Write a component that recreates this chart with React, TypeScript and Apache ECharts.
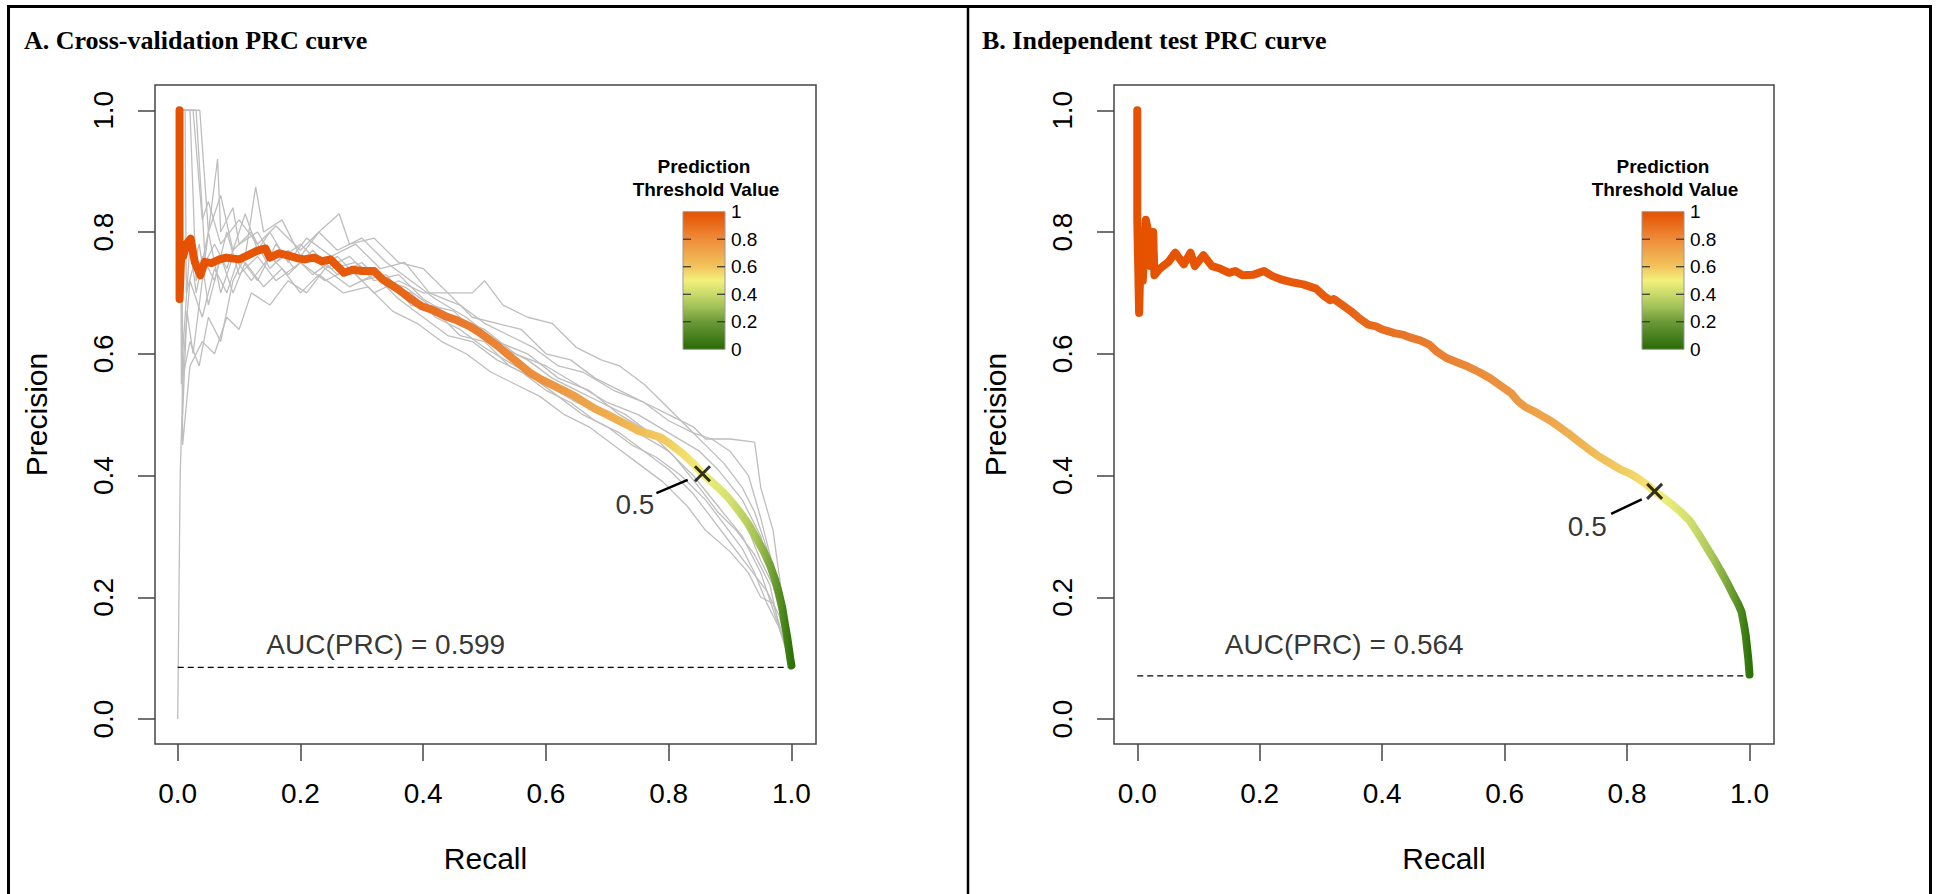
import React, { useEffect, useRef } from "react";
import * as echarts from "echarts";

// ---------- data ----------
const tickValues = [0, 0.2, 0.4, 0.6, 0.8, 1.0];
const legendValues = [1, 0.8, 0.6, 0.4, 0.2, 0];
const legendLabels = ["1", "0.8", "0.6", "0.4", "0.2", "0"];
const panelTitles = ["A. Cross-validation PRC curve", "B. Independent test PRC curve"];
const aucLabels = ["AUC(PRC) = 0.599", "AUC(PRC) = 0.564"];
const baselinePrecision = [0.085, 0.071];
const cutoffPoints = [[0.855, 0.403], [0.845, 0.374]];
const cutoffLabel = "0.5";
const cutoffLabelPos = [[0.745, 0.352], [0.735, 0.317]];
const leaderA = [[0.78, 0.371], [0.831, 0.393]];
const leaderB = [[0.774, 0.337], [0.824, 0.361]];
const aucLabelPos = [[0.339, 0.122], [0.338, 0.122]];

// main cross-validation curve (recall, precision)
const cvCurve = [
  [0.003, 1.0], [0.003, 0.69], [0.006, 0.77], [0.009, 0.76], [0.014, 0.78], [0.021, 0.789],
  [0.028, 0.75], [0.037, 0.729], [0.044, 0.751], [0.055, 0.749], [0.068, 0.755], [0.079, 0.758],
  [0.1, 0.755], [0.115, 0.762], [0.129, 0.769], [0.143, 0.773], [0.15, 0.758], [0.165, 0.765],
  [0.178, 0.762], [0.195, 0.757], [0.207, 0.755], [0.222, 0.758], [0.235, 0.752], [0.249, 0.755],
  [0.262, 0.742], [0.271, 0.733], [0.285, 0.738], [0.3, 0.736], [0.32, 0.736], [0.334, 0.722],
  [0.35, 0.712], [0.363, 0.703], [0.38, 0.69], [0.398, 0.678], [0.415, 0.672], [0.433, 0.663],
  [0.455, 0.655], [0.476, 0.645], [0.49, 0.636], [0.504, 0.626], [0.52, 0.614], [0.54, 0.597],
  [0.557, 0.583], [0.575, 0.568], [0.592, 0.558], [0.61, 0.549], [0.628, 0.54], [0.646, 0.531],
  [0.663, 0.52], [0.681, 0.509], [0.7, 0.5], [0.717, 0.491], [0.735, 0.482], [0.752, 0.473],
  [0.77, 0.468], [0.788, 0.462], [0.805, 0.45], [0.823, 0.436], [0.84, 0.42], [0.855, 0.403],
  [0.87, 0.39], [0.887, 0.374], [0.9, 0.36], [0.915, 0.341], [0.93, 0.32], [0.943, 0.297],
  [0.955, 0.275], [0.965, 0.253], [0.973, 0.23], [0.979, 0.209], [0.985, 0.183], [0.989, 0.158],
  [0.993, 0.135], [0.996, 0.114], [0.998, 0.1], [1.0, 0.088],
];

// independent test curve (recall, precision)
const testCurve = [
  [0.0, 1.0], [0.0, 0.82], [0.003, 0.667], [0.006, 0.78], [0.009, 0.72], [0.014, 0.82],
  [0.018, 0.8], [0.021, 0.744], [0.024, 0.8], [0.026, 0.8], [0.028, 0.729], [0.037, 0.74],
  [0.051, 0.751], [0.062, 0.766], [0.07, 0.755], [0.076, 0.747], [0.087, 0.766], [0.094, 0.744],
  [0.108, 0.762], [0.122, 0.744], [0.135, 0.74], [0.15, 0.733], [0.16, 0.736], [0.172, 0.729],
  [0.19, 0.73], [0.207, 0.736], [0.22, 0.728], [0.235, 0.722], [0.255, 0.717], [0.271, 0.714],
  [0.292, 0.707], [0.305, 0.695], [0.315, 0.688], [0.321, 0.69], [0.335, 0.68], [0.349, 0.67],
  [0.363, 0.658], [0.377, 0.648], [0.39, 0.645], [0.4, 0.64], [0.42, 0.634], [0.435, 0.631],
  [0.448, 0.626], [0.462, 0.622], [0.477, 0.615], [0.49, 0.603], [0.505, 0.593], [0.522, 0.586],
  [0.54, 0.579], [0.558, 0.57], [0.576, 0.56], [0.593, 0.548], [0.611, 0.535], [0.622, 0.522],
  [0.633, 0.513], [0.647, 0.506], [0.661, 0.498], [0.675, 0.49], [0.689, 0.48], [0.703, 0.47],
  [0.718, 0.458], [0.735, 0.445], [0.753, 0.432], [0.771, 0.421], [0.789, 0.41], [0.803, 0.404],
  [0.817, 0.396], [0.831, 0.386], [0.845, 0.374], [0.86, 0.363], [0.874, 0.352], [0.888, 0.34],
  [0.902, 0.326], [0.916, 0.305], [0.93, 0.282], [0.941, 0.264], [0.952, 0.245], [0.963, 0.225],
  [0.973, 0.205], [0.981, 0.19], [0.987, 0.176], [0.991, 0.155], [0.994, 0.136], [0.998, 0.099], [1.0, 0.073],
];

// individual cross-validation folds (grey)
const fold1 = [[0, 0], [0.004, 0.4], [0.01, 0.6], [0.02, 0.72], [0.04, 0.66], [0.06, 0.74], [0.08, 0.7], [0.1, 0.76], [0.13, 0.72], [0.16, 0.78], [0.19, 0.74], [0.22, 0.77], [0.26, 0.73], [0.3, 0.75], [0.34, 0.71], [0.38, 0.7], [0.42, 0.66], [0.46, 0.64], [0.5, 0.61], [0.55, 0.58], [0.6, 0.55], [0.65, 0.52], [0.7, 0.5], [0.75, 0.47], [0.8, 0.44], [0.84, 0.4], [0.88, 0.35], [0.92, 0.3], [0.95, 0.24], [0.97, 0.18], [0.99, 0.12], [1, 0.085]];
const fold2 = [[0.003, 1.0], [0.006, 1.0], [0.008, 0.5], [0.015, 0.67], [0.025, 0.6], [0.04, 0.72], [0.065, 0.92], [0.07, 0.8], [0.09, 0.84], [0.1, 0.78], [0.13, 0.8], [0.16, 0.75], [0.2, 0.78], [0.24, 0.74], [0.28, 0.76], [0.32, 0.72], [0.36, 0.73], [0.4, 0.69], [0.45, 0.66], [0.5, 0.64], [0.55, 0.6], [0.6, 0.58], [0.65, 0.55], [0.7, 0.52], [0.75, 0.5], [0.8, 0.47], [0.85, 0.44], [0.88, 0.41], [0.92, 0.36], [0.95, 0.3], [0.97, 0.22], [0.99, 0.14], [1, 0.09]];
const fold3 = [[0.005, 1.0], [0.03, 1.0], [0.045, 0.75], [0.06, 0.78], [0.08, 0.74], [0.11, 0.83], [0.13, 0.77], [0.15, 0.8], [0.18, 0.75], [0.21, 0.79], [0.25, 0.76], [0.29, 0.78], [0.33, 0.74], [0.37, 0.75], [0.41, 0.7], [0.46, 0.68], [0.5, 0.65], [0.54, 0.63], [0.58, 0.61], [0.62, 0.58], [0.66, 0.57], [0.71, 0.54], [0.76, 0.52], [0.8, 0.49], [0.84, 0.47], [0.87, 0.46], [0.9, 0.44], [0.93, 0.4], [0.95, 0.33], [0.97, 0.25], [0.985, 0.16], [1, 0.09]];
const fold4 = [[0.004, 1.0], [0.006, 0.55], [0.02, 0.62], [0.035, 0.58], [0.05, 0.66], [0.07, 0.62], [0.09, 0.72], [0.11, 0.76], [0.127, 0.874], [0.14, 0.8], [0.17, 0.82], [0.2, 0.76], [0.23, 0.8], [0.26, 0.77], [0.3, 0.79], [0.34, 0.75], [0.38, 0.72], [0.42, 0.69], [0.47, 0.66], [0.52, 0.62], [0.57, 0.6], [0.62, 0.56], [0.67, 0.54], [0.72, 0.5], [0.77, 0.47], [0.81, 0.43], [0.85, 0.38], [0.88, 0.34], [0.91, 0.31], [0.94, 0.27], [0.965, 0.22], [0.98, 0.15], [1, 0.085]];
const fold5 = [[0.006, 1.0], [0.008, 0.45], [0.02, 0.58], [0.04, 0.62], [0.06, 0.6], [0.08, 0.66], [0.1, 0.64], [0.12, 0.7], [0.15, 0.68], [0.18, 0.72], [0.21, 0.7], [0.24, 0.74], [0.28, 0.71], [0.32, 0.73], [0.36, 0.69], [0.4, 0.66], [0.44, 0.63], [0.48, 0.62], [0.52, 0.59], [0.56, 0.57], [0.6, 0.54], [0.64, 0.52], [0.68, 0.49], [0.72, 0.47], [0.76, 0.44], [0.8, 0.41], [0.84, 0.37], [0.87, 0.33], [0.9, 0.29], [0.93, 0.25], [0.96, 0.21], [0.98, 0.17], [0.99, 0.13], [1, 0.085]];
const fold6 = [[0.008, 1.0], [0.02, 1.0], [0.03, 0.72], [0.04, 0.76], [0.06, 0.72], [0.08, 0.8], [0.1, 0.73], [0.13, 0.76], [0.16, 0.72], [0.2, 0.75], [0.24, 0.72], [0.28, 0.74], [0.32, 0.7], [0.36, 0.72], [0.4, 0.7], [0.44, 0.7], [0.48, 0.66], [0.52, 0.65], [0.56, 0.64], [0.6, 0.6], [0.64, 0.59], [0.68, 0.56], [0.72, 0.54], [0.76, 0.52], [0.8, 0.5], [0.84, 0.48], [0.86, 0.46], [0.9, 0.46], [0.94, 0.455], [0.95, 0.38], [0.97, 0.31], [0.985, 0.2], [1, 0.09]];
const fold7 = [[0.01, 1.0], [0.036, 1.0], [0.05, 0.8], [0.07, 0.86], [0.09, 0.77], [0.12, 0.8], [0.15, 0.74], [0.18, 0.77], [0.22, 0.73], [0.26, 0.76], [0.3, 0.72], [0.34, 0.73], [0.38, 0.68], [0.42, 0.67], [0.46, 0.63], [0.5, 0.62], [0.54, 0.58], [0.58, 0.56], [0.62, 0.53], [0.66, 0.5], [0.7, 0.48], [0.74, 0.45], [0.78, 0.43], [0.82, 0.4], [0.86, 0.36], [0.89, 0.32], [0.92, 0.28], [0.94, 0.24], [0.96, 0.19], [0.98, 0.15], [1, 0.09]];
const fold8 = [[0.012, 1.0], [0.014, 0.7], [0.035, 0.78], [0.05, 0.68], [0.07, 0.76], [0.09, 0.7], [0.11, 0.75], [0.14, 0.71], [0.17, 0.74], [0.2, 0.7], [0.23, 0.73], [0.27, 0.7], [0.31, 0.71], [0.35, 0.67], [0.39, 0.65], [0.43, 0.62], [0.47, 0.6], [0.51, 0.57], [0.55, 0.55], [0.59, 0.53], [0.63, 0.5], [0.67, 0.48], [0.71, 0.45], [0.75, 0.42], [0.79, 0.39], [0.83, 0.35], [0.86, 0.31], [0.9, 0.275], [0.93, 0.24], [0.95, 0.2], [0.97, 0.19], [0.985, 0.14], [1, 0.09]];
const fold9 = [[0.004, 1.0], [0.025, 1.0], [0.04, 0.82], [0.05, 0.85], [0.07, 0.78], [0.1, 0.82], [0.13, 0.78], [0.16, 0.81], [0.2, 0.77], [0.23, 0.8], [0.263, 0.83], [0.28, 0.78], [0.32, 0.79], [0.36, 0.75], [0.4, 0.74], [0.44, 0.7], [0.48, 0.7], [0.5, 0.72], [0.53, 0.68], [0.57, 0.66], [0.61, 0.65], [0.65, 0.61], [0.69, 0.59], [0.72, 0.58], [0.76, 0.55], [0.8, 0.51], [0.83, 0.48], [0.86, 0.45], [0.89, 0.42], [0.92, 0.38], [0.94, 0.34], [0.96, 0.28], [0.98, 0.2], [1, 0.09]];
const fold10 = [[0.006, 1.0], [0.008, 0.6], [0.02, 0.78], [0.03, 0.7], [0.05, 0.8], [0.07, 0.7], [0.09, 0.76], [0.12, 0.72], [0.15, 0.76], [0.18, 0.73], [0.21, 0.76], [0.25, 0.74], [0.29, 0.75], [0.33, 0.72], [0.37, 0.71], [0.41, 0.68], [0.45, 0.67], [0.49, 0.63], [0.53, 0.61], [0.57, 0.59], [0.61, 0.56], [0.65, 0.54], [0.69, 0.52], [0.73, 0.5], [0.77, 0.47], [0.81, 0.45], [0.84, 0.42], [0.87, 0.39], [0.9, 0.36], [0.93, 0.31], [0.95, 0.26], [0.97, 0.22], [0.99, 0.15], [1, 0.09]];
const cvFolds = [fold1, fold2, fold3, fold4, fold5, fold6, fold7, fold8, fold9, fold10];

// ---------- styling ----------
const SANS = '"Liberation Sans", Arial, sans-serif';
const SERIF = '"Liberation Serif", "Times New Roman", serif';
const AXIS_COLOR = "#444";

const curveStops = [
  [0, "#E65100"], [0.3, "#E65A0C"], [0.45, "#E9772A"], [0.6, "#EC9440"], [0.72, "#EFB252"],
  [0.8, "#F1CF62"], [0.855, "#F3EE7C"], [0.9, "#D4E06E"], [0.94, "#A8C656"], [0.97, "#6E9E32"], [1, "#2E7308"],
];
const legendStops = [
  [0, "#E45000"], [0.2, "#EE8C3A"], [0.4, "#F2C45C"], [0.5, "#F3F07C"], [0.6, "#C8DA6A"],
  [0.7, "#9EBE55"], [0.8, "#6A9A38"], [1, "#2A6A05"],
];

const grids = [
  { left: 155, top: 85, width: 661, height: 659 },
  { left: 1114, top: 85, width: 660, height: 659 },
];
const xRanges = [[-0.037, 1.04], [-0.038, 1.04]];
const yRange = [-0.041, 1.0415];

function grad(stops: any[], vertical: boolean) {
  return new echarts.graphic.LinearGradient(
    0, 0, vertical ? 0 : 1, vertical ? 1 : 0,
    stops.map(([o, c]) => ({ offset: o, color: c }))
  );
}

function legendGraphics(dx: number) {
  const bx = 683 + dx, by = 211.7, bw = 42, bh = 137.6;
  const els: any[] = [
    { type: "text", x: 704 + dx, y: 166, style: { text: "Prediction", font: `bold 19px ${SANS}`, fill: "#000", align: "center", verticalAlign: "middle" } },
    { type: "text", x: 706 + dx, y: 189, style: { text: "Threshold Value", font: `bold 19px ${SANS}`, fill: "#000", align: "center", verticalAlign: "middle" } },
    { type: "rect", shape: { x: bx, y: by, width: bw, height: bh }, style: { fill: grad(legendStops, true), stroke: "#999", lineWidth: 1 } },
  ];
  legendValues.forEach((v, i) => {
    const y = by + bh - v * bh;
    if (v > 0 && v < 1) {
      els.push({ type: "line", shape: { x1: bx, y1: y, x2: bx + 8, y2: y }, style: { stroke: "#333", lineWidth: 1.2 } });
      els.push({ type: "line", shape: { x1: bx + bw - 8, y1: y, x2: bx + bw, y2: y }, style: { stroke: "#333", lineWidth: 1.2 } });
    }
    els.push({ type: "text", x: bx + 48, y, style: { text: legendLabels[i], font: `19px ${SANS}`, fill: "#000", align: "left", verticalAlign: "middle" } });
  });
  return els;
}

function textSeries(idx: number, pos: number[], text: string) {
  return {
    type: "scatter", xAxisIndex: idx, yAxisIndex: idx, silent: true, z: 6,
    symbol: "circle", symbolSize: 1, itemStyle: { color: "rgba(0,0,0,0)" },
    label: { show: true, position: "inside", formatter: text, fontSize: 28, fontFamily: SANS, color: "#000" },
    data: [pos],
  };
}

export default function App() {
  const ref = useRef<HTMLDivElement>(null);
  useEffect(() => {
    if (!ref.current) return;
    const chart = echarts.init(ref.current, undefined, { renderer: "svg" });
    const fmt = (v: number) => v.toFixed(1);
    const xAxes = [0, 1].map((i) => ({
      type: "value", gridIndex: i, min: xRanges[i][0], max: xRanges[i][1],
      splitLine: { show: false }, axisLine: { show: false, onZero: false },
      axisTick: { show: true, length: 17, customValues: tickValues, lineStyle: { color: AXIS_COLOR, width: 1.5 } },
      axisLabel: { customValues: tickValues, formatter: fmt, fontSize: 28, fontFamily: SANS, color: "#000", margin: 35, hideOverlap: false },
      name: "Recall", nameLocation: "middle", nameGap: 99,
      nameTextStyle: { fontSize: 30, fontFamily: SANS, color: "#000" },
    }));
    const yAxes = [0, 1].map((i) => ({
      type: "value", gridIndex: i, min: yRange[0], max: yRange[1],
      splitLine: { show: false }, axisLine: { show: false, onZero: false },
      axisTick: { show: true, length: 17, customValues: tickValues, lineStyle: { color: AXIS_COLOR, width: 1.5 } },
      axisLabel: { customValues: tickValues, formatter: fmt, rotate: 90, fontSize: 28, fontFamily: SANS, color: "#000", margin: 38, hideOverlap: false },
      name: "Precision", nameLocation: "middle", nameGap: 104, nameRotate: 90,
      nameTextStyle: { fontSize: 30, fontFamily: SANS, color: "#000" },
    }));

    const series: any[] = [];
    cvFolds.forEach((f, k) => {
      series.push({
        type: "line", name: `fold${k + 1}`, xAxisIndex: 0, yAxisIndex: 0, data: f, symbol: "none", silent: true, z: 2,
        lineStyle: { color: "#BEBEBE", width: 1.3 },
      });
    });
    [cvCurve, testCurve].forEach((curve, i) => {
      series.push({
        type: "line", xAxisIndex: i, yAxisIndex: i, symbol: "none", silent: true, z: 3,
        data: [[0, baselinePrecision[i]], [1, baselinePrecision[i]]],
        lineStyle: { color: "#000", width: 1.3, type: [6, 4] },
      });
      series.push({
        type: "line", xAxisIndex: i, yAxisIndex: i, symbol: "none", silent: true, z: 4, data: curve,
        lineStyle: { color: grad(curveStops, false), width: 8, cap: "round", join: "round" },
      });
      series.push({
        type: "line", xAxisIndex: i, yAxisIndex: i, symbol: "none", silent: true, z: 5,
        data: i === 0 ? leaderA : leaderB,
        lineStyle: { color: "#000", width: 2.5 },
      });
      series.push({
        type: "scatter", xAxisIndex: i, yAxisIndex: i, silent: true, z: 6,
        symbol: "path://M0,0L10,10M10,0L0,10", symbolSize: 15,
        itemStyle: { color: "none", borderColor: "#000", borderWidth: 3 },
        data: [cutoffPoints[i]],
      });
      series.push(textSeries(i, cutoffLabelPos[i], cutoffLabel));
      series.push(textSeries(i, aucLabelPos[i], aucLabels[i]));
    });

    const graphic: any[] = [
      { type: "line", shape: { x1: 7, y1: 6.5, x2: 1932, y2: 6.5 }, style: { stroke: "#000", lineWidth: 3 } },
      { type: "line", shape: { x1: 8.5, y1: 5, x2: 8.5, y2: 894 }, style: { stroke: "#000", lineWidth: 3 } },
      { type: "line", shape: { x1: 968, y1: 5, x2: 968, y2: 894 }, style: { stroke: "#000", lineWidth: 2.5 } },
      { type: "line", shape: { x1: 1930.5, y1: 5, x2: 1930.5, y2: 894 }, style: { stroke: "#000", lineWidth: 3 } },
      { type: "text", x: 24, y: 40, style: { text: panelTitles[0], font: `bold 26px ${SERIF}`, fill: "#000", align: "left", verticalAlign: "middle" } },
      { type: "text", x: 982, y: 40, style: { text: panelTitles[1], font: `bold 26px ${SERIF}`, fill: "#000", align: "left", verticalAlign: "middle" } },
      ...legendGraphics(0),
      ...legendGraphics(959),
    ];

    chart.setOption({
      animation: false,
      backgroundColor: "#fff",
      grid: grids.map((g) => ({ ...g, show: true, borderColor: AXIS_COLOR, borderWidth: 1.5, backgroundColor: "transparent" })),
      xAxis: xAxes,
      yAxis: yAxes,
      series,
      graphic,
    });
    return () => chart.dispose();
  }, []);
  return <div ref={ref} style={{ position: "absolute", left: 0, top: 0, width: 1937, height: 894 }} />;
}
